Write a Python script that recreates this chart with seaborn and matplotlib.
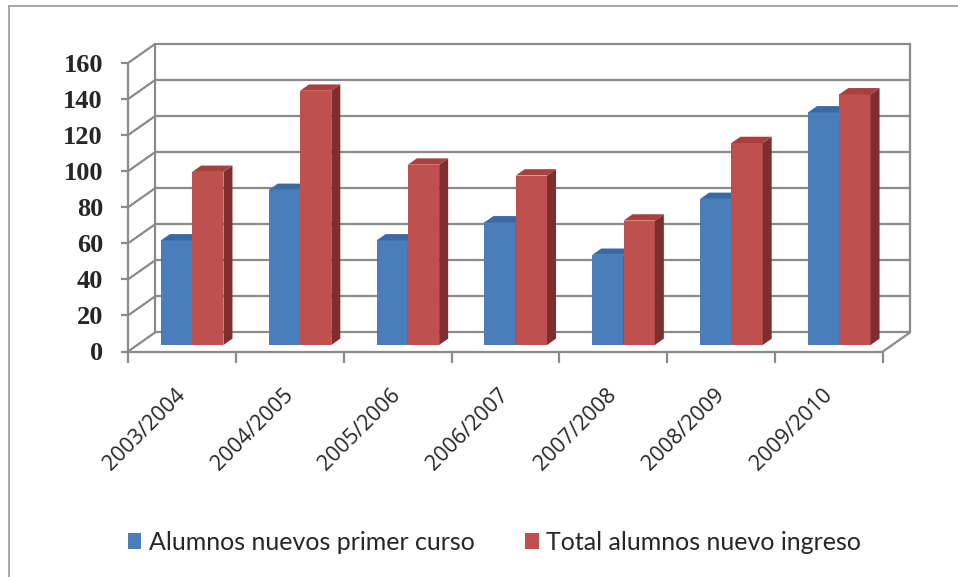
import pandas as pd
import matplotlib.pyplot as plt
from matplotlib.patches import Polygon, Rectangle
import seaborn as sns

years = ["2003/2004", "2004/2005", "2005/2006", "2006/2007",
         "2007/2008", "2008/2009", "2009/2010"]
primer_curso = [58, 86, 58, 68, 50, 81, 129]
total_ingreso = [96, 141, 100, 94, 69, 112, 139]
series = ["Alumnos nuevos primer curso", "Total alumnos nuevo ingreso"]
y_ticks = [0, 20, 40, 60, 80, 100, 120, 140, 160]

front_colors = ["#4a7ebb", "#c0504d"]
top_colors = ["#3b69a6", "#a8403d"]
side_colors = ["#2f5586", "#7e2e2c"]
grid_color = "#8a8a8a"

df = pd.DataFrame({
    "Curso": years * 2,
    "Alumnos": primer_curso + total_ingreso,
    "Serie": [series[0]] * len(years) + [series[1]] * len(years),
})

# fake 3d box: depth offset of walls and bars, in data units
x0 = -0.595
wall_dx, wall_dy = 0.251, 10.55
y_front = -3.61
bar_dx, bar_dy = 0.0836, 3.51
n = len(years)

W, H = 958, 577
sns.set_style("white")
fig = plt.figure(figsize=(W / 100, H / 100), dpi=100)
ax = fig.add_axes([128 / W, 1 - 351.5 / H, (910 - 128) / W, (351.5 - 44) / H])

sns.barplot(data=df, x="Curso", y="Alumnos", hue="Serie", palette=front_colors,
            width=0.58, saturation=1, errorbar=None, legend=False, ax=ax)

ax.set_xlim(x0, x0 + n + wall_dx)
ax.set_ylim(y_front, y_front + wall_dy + y_ticks[-1])

# back wall, left wall and floor
line_kw = dict(color=grid_color, lw=1.6, clip_on=False, zorder=0.5)
bx0, bx1 = x0 + wall_dx, x0 + n + wall_dx
for v in y_ticks:
    ax.plot([bx0, bx1], [v + y_front + wall_dy] * 2, **line_kw)
    ax.plot([x0, bx0], [v + y_front, v + y_front + wall_dy], **line_kw)
ax.plot([x0, x0], [y_front, y_front + y_ticks[-1]], **line_kw)
ax.plot([bx0, bx0], [y_front + wall_dy, y_front + wall_dy + y_ticks[-1]], **line_kw)
ax.plot([bx1, bx1], [y_front + wall_dy, y_front + wall_dy + y_ticks[-1]], **line_kw)
ax.plot([x0, x0 + n], [y_front, y_front], **line_kw)
ax.plot([x0 + n, bx1], [y_front, y_front + wall_dy], **line_kw)

# side and top faces of each bar
for k, cont in enumerate(ax.containers):
    for bar in cont:
        bar.set_zorder(2 + 2 * k)
        bar.set_edgecolor("none")
        xl = bar.get_x()
        xr = xl + bar.get_width()
        h = bar.get_height()
        side = Polygon([(xr, 0), (xr + bar_dx, bar_dy), (xr + bar_dx, h + bar_dy), (xr, h)],
                       closed=True, fc=side_colors[k], ec="none", zorder=2.5 + 2 * k)
        top = Polygon([(xl, h), (xl + bar_dx, h + bar_dy), (xr + bar_dx, h + bar_dy), (xr, h)],
                      closed=True, fc=top_colors[k], ec="none", zorder=2.5 + 2 * k)
        ax.add_patch(side)
        ax.add_patch(top)

for s in ax.spines.values():
    s.set_visible(False)

ax.set_yticks([v + y_front for v in y_ticks])
ax.set_yticklabels([str(v) for v in y_ticks], fontfamily="Liberation Serif",
                   fontweight="bold", fontsize=19)
ax.tick_params(axis="y", left=True, length=5, width=1.6, color=grid_color, pad=13)

ax.set_xticks([i + x0 + 0.5 for i in range(n)])
ax.set_xticklabels(years, fontfamily="Open Sans", fontsize=15.5, rotation=45,
                   ha="right", va="center", rotation_mode="anchor")
ax.set_xticks([x0 + i for i in range(n + 1)], minor=True)
ax.tick_params(axis="x", which="major", length=0, pad=29)
ax.tick_params(axis="x", which="minor", bottom=True, length=8, width=1.6, color=grid_color)
ax.set_xlabel("")
ax.set_ylabel("")

handles = [Rectangle((0, 0), 1, 1, fc=c, ec="none") for c in front_colors]
fig.legend(handles, series, loc="center", bbox_to_anchor=(0.516, 1 - 542 / H),
           ncol=2, frameon=False, handlelength=0.55, handleheight=0.6,
           handletextpad=0.3, columnspacing=2.0,
           prop={"family": "Lato", "size": 18})

fig.add_artist(plt.Line2D([9 / W, 9 / W], [0, 1 - 6 / H], color="#9a9a9a", lw=1.2))
fig.add_artist(plt.Line2D([9 / W, 1], [1 - 6 / H, 1 - 6 / H], color="#9a9a9a", lw=1.2))

fig.savefig("out.png", dpi=100)
